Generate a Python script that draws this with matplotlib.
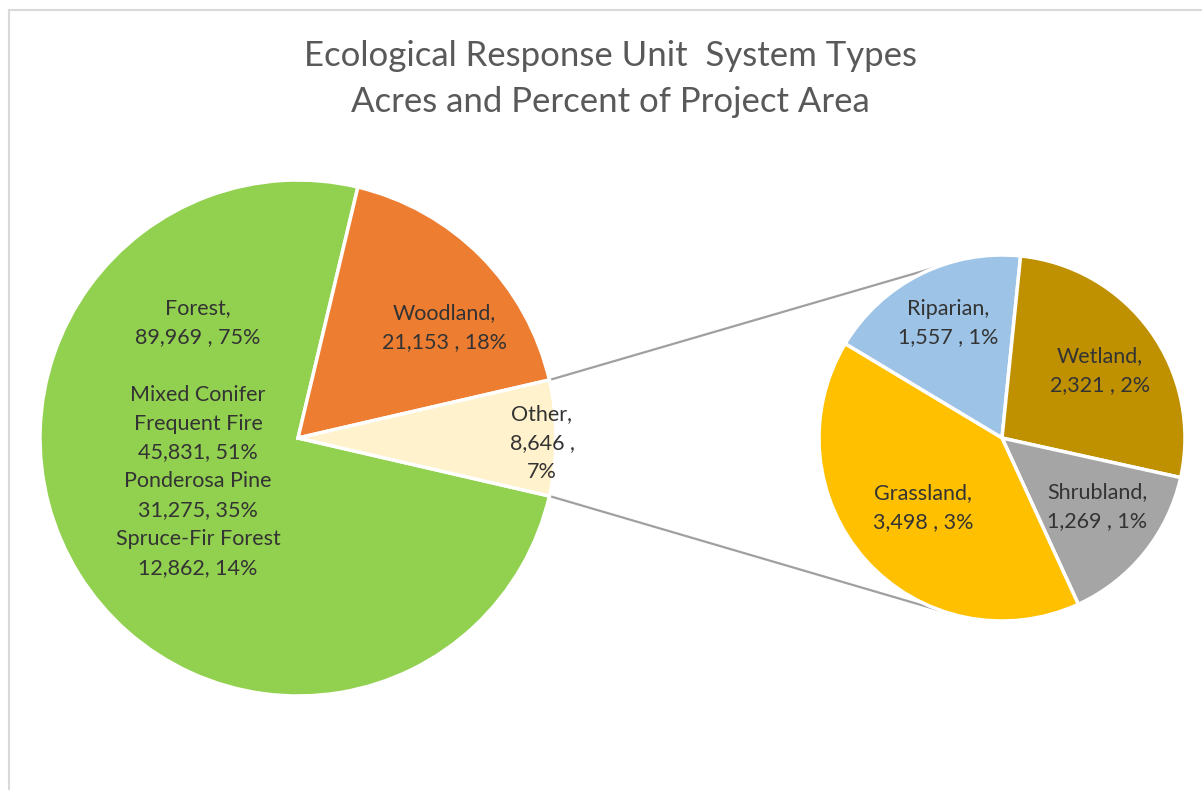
import matplotlib
matplotlib.use("Agg")
import matplotlib.pyplot as plt
import numpy as np
from matplotlib.lines import Line2D

plt.rcParams['font.family'] = ['Lato', 'DejaVu Sans']

# main pie
main_labels = ['Forest', 'Woodland', 'Other']
main_acres = [89969, 21153, 8646]

# breakdown of "Other"
other_labels = ['Riparian', 'Wetland', 'Shrubland', 'Grassland']
other_acres = [1557, 2321, 1269, 3498]

# forest subtypes (listed inside the forest slice)
forest_types = ['Mixed Conifer\nFrequent Fire', 'Ponderosa Pine', 'Spruce-Fir Forest']
forest_acres = [45831, 31275, 12862]

main_colors = ['#92D050', '#ED7D31', '#FFF2CC']
other_colors = ['#9DC3E6', '#BF9000', '#A5A5A5', '#FFC000']
text_color = '#333333'

W, H = 1202, 790
fig = plt.figure(figsize=(W / 100, H / 100), dpi=100)
ax = fig.add_axes([0, 0, 1, 1])


def px(x, y):
    # pixel position (top-left origin) -> data coords
    return x, H - y


total = sum(main_acres)
main_c = px(298, 438)
main_r = 258
sec_c = px(1002, 438)
sec_r = 183

other_frac = main_acres[2] / total
start = -360 * other_frac / 2
ax.pie(main_acres, colors=main_colors, center=main_c, radius=main_r,
       startangle=start, counterclock=False,
       wedgeprops=dict(edgecolor='white', linewidth=2.5))

ax.pie(other_acres, colors=other_colors, center=sec_c, radius=sec_r,
       startangle=149, counterclock=False,
       wedgeprops=dict(edgecolor='white', linewidth=2.5))

# connector lines from the "Other" slice to the secondary pie
half = np.deg2rad(180 * other_frac)
p_top = (main_c[0] + main_r * np.cos(half), main_c[1] + main_r * np.sin(half))
p_bot = (main_c[0] + main_r * np.cos(half), main_c[1] - main_r * np.sin(half))
q_top = (sec_c[0] + sec_r * np.cos(np.deg2rad(111)), sec_c[1] + sec_r * np.sin(np.deg2rad(111)))
q_bot = (sec_c[0] + sec_r * np.cos(np.deg2rad(-107)), sec_c[1] + sec_r * np.sin(np.deg2rad(-107)))
for p, q in [(p_top, q_top), (p_bot, q_bot)]:
    ax.plot([p[0], q[0]], [p[1], q[1]], color='#A0A0A0', lw=1.6, zorder=0)

fs = 15.5
ls = 1.56


def pct(v):
    return f"{round(100 * v / total):d}%"


# forest label with subtypes
forest_total = sum(forest_acres)
lines = [f"{main_labels[0]},", f"{main_acres[0]:,} , {pct(main_acres[0])}", ""]
for name, a in zip(forest_types, forest_acres):
    lines.append(name)
    lines.append(f"{a:,}, {round(100 * a / forest_total):d}%")
ax.text(*px(198, 438), "\n".join(lines), ha='center', va='center',
        fontsize=fs, color=text_color, linespacing=ls)

ax.text(*px(444, 328), f"{main_labels[1]},\n{main_acres[1]:,} , {pct(main_acres[1])}",
        ha='center', va='center', fontsize=fs, color=text_color, linespacing=ls)
ax.text(*px(542, 443), f"{main_labels[2]},\n{main_acres[2]:,} ,\n{pct(main_acres[2])}",
        ha='center', va='center', fontsize=fs, color=text_color, linespacing=ls)

sec_pos = [(948, 323), (1100, 371), (1097, 507), (923, 508)]
for name, a, (x, y) in zip(other_labels, other_acres, sec_pos):
    ax.text(*px(x, y), f"{name},\n{a:,} , {pct(a)}", ha='center', va='center',
            fontsize=fs, color=text_color, linespacing=ls)

# title
ax.text(*px(610, 79), "Ecological Response Unit  System Types\nAcres and Percent of Project Area",
        ha='center', va='center', fontsize=25, color='#595959', linespacing=1.5)

ax.set_xlim(0, W)
ax.set_ylim(0, H)
ax.set_aspect('equal')
ax.axis('off')

# chart border (left and top edges visible)
fig.add_artist(Line2D([9 / W, 9 / W], [0, 1 - 10 / H], color='#D9D9D9', lw=1.5))
fig.add_artist(Line2D([9 / W, 1], [1 - 10 / H, 1 - 10 / H], color='#D9D9D9', lw=1.5))

fig.savefig('out.png', dpi=100)
